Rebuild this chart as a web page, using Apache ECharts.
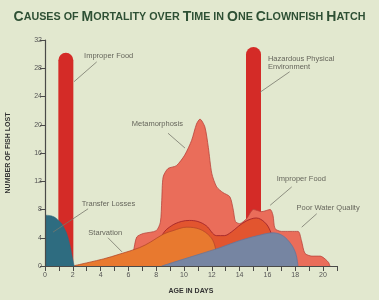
<!DOCTYPE html>
<html><head><meta charset="utf-8">
<script src="https://cdn.jsdelivr.net/npm/echarts@6/dist/echarts.min.js"></script>
<style>html,body{margin:0;padding:0;background:#e2e8cf;} #c{width:379px;height:300px;}</style>
</head><body><div id="c"></div>
<script>
// ---- text ----
const titleText = 'Causes of Mortality over Time in One Clownfish Hatch';
const xAxisName = 'AGE IN DAYS';
const yAxisName = 'NUMBER OF FISH LOST';
const xTickLabels = [0, 2, 4, 6, 8, 10, 12, 14, 16, 18, 20];
const yTickLabels = [0, 4, 8, 12, 16, 20, 24, 28, 32];

// ---- data (day, fish lost) ----
const spikeNames = ['Improper Food', 'Hazardous Physical Environment'];
const spikeDays = [1.5, 15.0];
const spikeValues = [30.2, 31];

const transferDays = [0, 0.3, 0.6, 0.9, 1.2, 1.4, 1.6, 1.8, 1.95, 2.1];
const transferValues = [7.2, 7.15, 7.0, 6.6, 6.0, 5.3, 4.4, 2.9, 1.4, 0];

const metaDays = [6.0, 6.35, 6.6, 7.07, 8.0, 8.3, 8.4, 8.5, 8.85, 9.45, 10.05, 10.55, 10.9, 11.15, 11.5, 11.75, 12.0, 12.35, 12.8, 13.3, 13.55, 13.7, 14.0, 14.5, 15.0, 15.6, 16.2, 16.4, 16.55, 17.0, 18.2, 18.45, 18.7, 19.2, 19.8, 20.15, 20.4, 20.5];
const metaValues = [0, 2.0, 4.1, 4.6, 5.0, 6.2, 9.3, 12.6, 13.8, 14.2, 15.7, 17.8, 20.1, 20.8, 19.7, 16.8, 13.1, 11.2, 10.4, 9.8, 7.9, 6.3, 6.0, 6.7, 8.0, 7.7, 8.0, 7.2, 5.3, 4.9, 4.9, 3.6, 1.8, 1.4, 1.4, 1.0, 0.5, 0];

const foodDays = [7.4, 8.5, 9.1, 9.8, 10.4, 11.0, 11.6, 12.35, 12.9, 13.4, 13.9, 14.5, 15.2, 15.8, 16.2, 16.5, 16.8];
const foodValues = [0, 4.6, 5.7, 6.3, 6.45, 6.3, 5.7, 4.3, 4.3, 4.8, 5.6, 6.4, 6.8, 6.2, 5.0, 3.0, 0];

const starveDays = [2.0, 4.2, 5.4, 6.8, 7.6, 8.5, 9.2, 10.2, 11.15, 11.87, 12.2, 12.5];
const starveValues = [0, 1.0, 1.7, 2.6, 3.4, 4.5, 5.0, 5.5, 5.2, 4.2, 3.0, 0];

const waterDays = [8.4, 10.5, 12.6, 14.0, 15.5, 16.4, 17.1, 17.7, 18.05, 18.2];
const waterValues = [0, 1.3, 2.6, 3.6, 4.4, 4.7, 4.3, 3.1, 1.7, 0];

// ---- annotations (text, top-left anchor, leader line from/to), in data units ----
const annotations = [
  { text: 'Improper Food', at: [2.81, 30.3], from: [3.72, 28.9], to: [2.09, 26.1] },
  { text: 'Hazardous Physical\nEnvironment', at: [16.04, 29.9], from: [17.6, 27.5], to: [15.47, 24.6] },
  { text: 'Metamorphosis', at: [6.24, 20.7], from: [8.85, 18.8], to: [10.07, 16.7] },
  { text: 'Transfer Losses', at: [2.64, 9.35], from: [3.1, 8.1], to: [0.58, 4.8] },
  { text: 'Starvation', at: [3.12, 5.24], from: [4.53, 4.0], to: [5.54, 2.0] },
  { text: 'Improper Food', at: [16.67, 12.9], from: [17.75, 11.2], to: [16.2, 8.6] },
  { text: 'Poor Water Quality', at: [18.1, 8.8], from: [19.55, 7.4], to: [18.47, 5.5] }
];

function zip(a, b) { return a.map((v, i) => [v, b[i]]); }

function smallCaps(s) {
  return s.split(' ').map(w => {
    const first = w[0];
    if (first === first.toUpperCase()) {
      return '{b|' + first + '}' + (w.length > 1 ? '{s|' + w.slice(1).toUpperCase() + '}' : '');
    }
    return '{s|' + w.toUpperCase() + '}';
  }).join('{s| }');
}

const chart = echarts.init(document.getElementById('c'), null, { renderer: 'canvas' });

function area(name, days, vals, fill, stroke, lw, smooth, z) {
  return {
    name: name, type: 'line', data: zip(days, vals), symbol: 'none', smooth: smooth, z: z,
    lineStyle: { color: stroke, width: lw }, areaStyle: { color: fill, opacity: 1 },
    silent: true
  };
}

const option = {
  backgroundColor: '#e2e8cf',
  animation: false,
  title: {
    text: smallCaps(titleText), left: 'center', top: 5,
    textStyle: {
      rich: {
        b: { fontSize: 14, fontWeight: 'bold', color: '#2e5034', fontFamily: 'Liberation Sans' },
        s: { fontSize: 10.75, fontWeight: 'bold', color: '#2e5034', fontFamily: 'Liberation Sans' }
      }
    }
  },
  grid: { left: 45, right: 42.1, top: 40, bottom: 34, containLabel: false, outerBoundsMode: 'none' },
  xAxis: {
    type: 'value', min: 0, max: 21, interval: 1, z: 20,
    name: xAxisName, nameLocation: 'middle', nameGap: 22,
    nameTextStyle: { fontSize: 7, fontWeight: 'bold', color: '#333', fontFamily: 'Liberation Sans' },
    axisLine: { lineStyle: { color: '#4a4a48', width: 1.2 } },
    axisTick: { length: 5, lineStyle: { color: '#4a4a48' } },
    axisLabel: { fontSize: 7, color: '#555', margin: 6,
      formatter: v => xTickLabels.indexOf(v) >= 0 ? String(v) : '' },
    splitLine: { show: false }
  },
  yAxis: {
    type: 'value', min: 0, max: 32, interval: 4, z: 20,
    name: yAxisName, nameLocation: 'middle', nameGap: 33,
    nameTextStyle: { fontSize: 7, fontWeight: 'bold', color: '#333', fontFamily: 'Liberation Sans' },
    axisLine: { show: true, lineStyle: { color: '#4a4a48', width: 1.2 } },
    axisTick: { show: true, length: 5, lineStyle: { color: '#4a4a48' } },
    axisLabel: { fontSize: 7, color: '#555', margin: 3,
      formatter: v => yTickLabels.indexOf(v) >= 0 ? String(v) : '' },
    splitLine: { show: false }
  },
  series: [
    {
      name: 'Spikes', type: 'bar', data: zip(spikeDays, spikeValues), barWidth: 15, z: 2,
      itemStyle: { color: '#d42b27', borderRadius: [8, 8, 0, 0] }, silent: true
    },
    area('Metamorphosis', metaDays, metaValues, '#ea6d5a', '#b9443c', 0.8, 0.25, 3),
    area('Improper Food', foodDays, foodValues, '#e2552f', '#a3262a', 0.9, 0.35, 4),
    area('Starvation', starveDays, starveValues, '#e8792f', '#b5472a', 0.8, 0.35, 5),
    area('Poor Water Quality', waterDays, waterValues, '#7685a2', '#66759a', 0.8, 0.35, 6),
    area('Transfer Losses', transferDays, transferValues, '#2e6c80', '#2e6c80', 0.5, 0.4, 7)
  ]
};
chart.setOption(option);

const graphics = [];
annotations.forEach(a => {
  const p0 = chart.convertToPixel({ gridIndex: 0 }, a.from);
  const p1 = chart.convertToPixel({ gridIndex: 0 }, a.to);
  const pt = chart.convertToPixel({ gridIndex: 0 }, a.at);
  graphics.push({ type: 'line', silent: true, z: 100,
    shape: { x1: p0[0], y1: p0[1], x2: p1[0], y2: p1[1] },
    style: { stroke: '#77776c', lineWidth: 0.8 } });
  graphics.push({ type: 'text', silent: true, z: 100, x: pt[0], y: pt[1],
    style: { text: a.text, fill: '#66665c', font: '7.5px "Liberation Sans"', verticalAlign: 'top', lineHeight: 8 } });
});
chart.setOption({ graphic: graphics });
</script>
</body></html>
